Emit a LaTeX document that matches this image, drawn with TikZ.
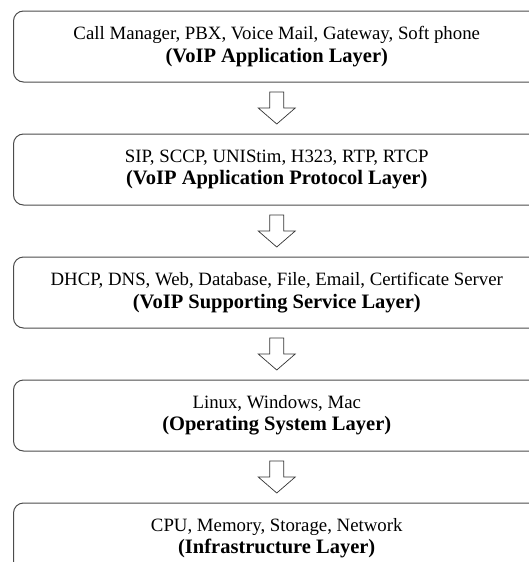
\documentclass[tikz,border=0pt]{standalone}
\usepackage{fontspec}
\setmainfont{Liberation Serif}
\usetikzlibrary{positioning,calc}

\newcommand{\layername}[1]{{\fontsize{20.5}{22.3}\selectfont\bfseries #1}}

\tikzset{
  layer/.style={draw=black!70, line width=1pt, rounded corners=10pt,
    minimum width=526.5pt, minimum height=71pt, align=center,
    font=\fontsize{18.8}{22.3}\selectfont},
  blockarrow/.style={draw=black!80, line width=0.7pt}
}

\begin{document}
\begin{tikzpicture}[node distance=51pt]
\useasboundingbox (0,0) rectangle (528pt,-562pt);
% the five layers
\node[layer] (app) at (276.75pt,-46.5pt) {Call Manager, PBX, Voice Mail, Gateway, Soft phone\\ \layername{(VoIP Application Layer)}};
\node[layer, below=of app] (proto) {SIP, SCCP, UNIStim, H323, RTP, RTCP\\ \layername{(VoIP Application Protocol Layer)}};
\node[layer, below=of proto] (serv) {DHCP, DNS, Web, Database, File, Email, Certificate Server\\ \layername{(VoIP Supporting Service Layer)}};
\node[layer, below=of serv] (os) {Linux, Windows, Mac\\ \layername{(Operating System Layer)}};
\node[layer, below=of os] (infra) {CPU, Memory, Storage, Network\\ \layername{(Infrastructure Layer)}};
% hollow arrows between the layers
\foreach \a/\b in {app/proto,proto/serv,serv/os,os/infra} {
  \coordinate (\a-\b) at ($(\a.south)!0.5!(\b.north)$);
  \draw[blockarrow] (\a-\b) ++(-7pt,16pt) -- ++(0,-16pt) -- ++(-11.5pt,0) -- ++(18.5pt,-16pt) -- ++(18.5pt,16pt) -- ++(-11.5pt,0) -- ++(0,16pt) -- cycle;
}
\end{tikzpicture}
\end{document}
